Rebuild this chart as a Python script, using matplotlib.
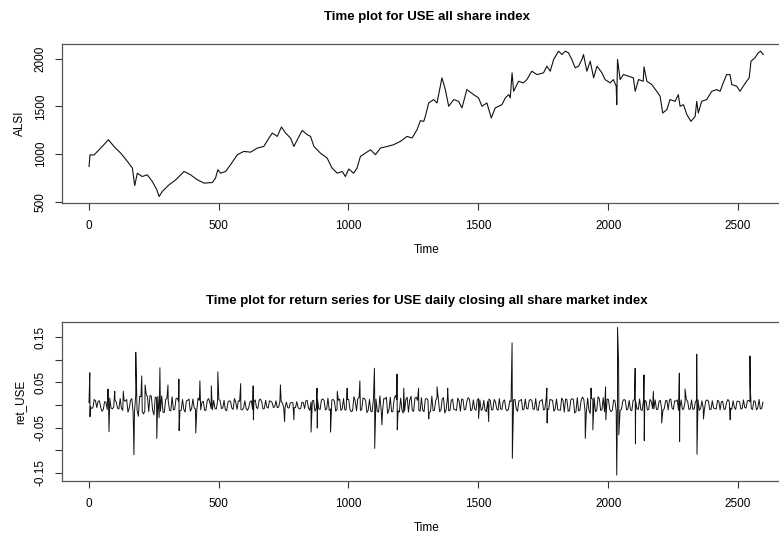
import numpy as np
import matplotlib.pyplot as plt
from matplotlib import font_manager

# --- data ---

# ALSI index level (top panel)
t_alsi = [1, 5, 20, 46, 76, 97, 123, 149, 168, 177, 187, 206, 225, 245, 262, 271, 283,
          309, 335, 354, 367, 392, 418, 444, 476, 488, 497, 508, 527, 546, 572, 597, 623,
          649, 674, 694, 707, 726, 742, 758, 777, 790, 803, 822, 841, 854, 867, 892, 918,
          937, 957, 976, 988, 1001, 1020, 1033, 1046, 1065, 1085, 1104, 1123, 1149, 1174,
          1200, 1226, 1245, 1264, 1277, 1290, 1296, 1309, 1328, 1341, 1360, 1373, 1386,
          1405, 1424, 1437, 1456, 1482, 1501, 1514, 1533, 1550, 1565, 1591, 1604, 1617,
          1623, 1630, 1636, 1655, 1674, 1687, 1706, 1726, 1751, 1764, 1777, 1790, 1809,
          1822, 1835, 1847, 1860, 1873, 1886, 1899, 1905, 1918, 1931, 1944, 1957, 1976,
          1988, 2008, 2020, 2031, 2033, 2036, 2046, 2059, 2078, 2097, 2104, 2117, 2135,
          2138, 2149, 2168, 2187, 2200, 2210, 2226, 2238, 2258, 2270, 2277, 2290, 2303,
          2319, 2335, 2341, 2347, 2360, 2379, 2399, 2418, 2431, 2443, 2456, 2469, 2476,
          2495, 2508, 2520, 2533, 2543, 2550, 2565, 2578, 2587, 2597]
alsi = [870, 993, 990, 1063, 1150, 1080, 1010, 923, 853, 670, 800, 765, 783, 713, 626, 556, 608,
        678, 731, 783, 818, 783, 731, 696, 702, 748, 836, 800, 818, 888, 993, 1028, 1020,
        1063, 1080, 1168, 1220, 1185, 1284, 1220, 1168, 1080, 1150, 1248, 1203, 1185, 1080, 1010, 958,
        853, 800, 818, 765, 843, 800, 853, 975, 1010, 1045, 993, 1063, 1080, 1098,
        1133, 1185, 1168, 1255, 1350, 1342, 1395, 1535, 1570, 1535, 1798, 1675, 1500,
        1570, 1552, 1483, 1675, 1622, 1588, 1500, 1535, 1378, 1483, 1517, 1588, 1622,
        1588, 1850, 1657, 1762, 1745, 1780, 1867, 1832, 1850, 1920, 1867, 1990, 2077,
        2042, 2077, 2060, 1990, 1902, 1920, 1990, 2042, 1867, 1972, 1798, 1920, 1850,
        1780, 1745, 1780, 1710, 1517, 1990, 1780, 1832, 1815, 1798, 1657, 1780, 1762,
        1913, 1762, 1727, 1657, 1605, 1430, 1465, 1570, 1552, 1622, 1500, 1517, 1413,
        1342, 1395, 1552, 1430, 1552, 1570, 1657, 1675, 1657, 1745, 1832, 1832, 1727,
        1710, 1657, 1710, 1762, 1798, 1972, 2007, 2060, 2077, 2042]

# daily returns (bottom panel), in thousandths
# background band, one value every 10 days starting at day 1
ret_band = [
    5, -8, 12, -6, 9, -14, 7, -10, 15, -9,
    11, -7, 14, -12, 8, -16, 10, -18, 22, -25,
    18, -20, 24, -15, 19, -22, 16, -28, 20, -17,
    14, -12, 18, -10, 15, -13, 12, -16, 10, -14,
    13, -9, 15, -11, 8, -12, 14, -8, 10, -9,
    12, -8, 10, -13, 9, -7, 14, -10, 8, -11,
    9, -12, 7, -10, 11, -8, 13, -9, 10, -7,
    8, -6, 9, -5, 7, -8, 6, -7, 5, -6,
    7, -9, 6, -8, 10, -12, 9, -14, 11, -10,
    13, -11, 15, -9, 12, -14, 10, -12, 14, -11,
    12, -15, 18, -13, 16, -11, 14, -17, 12, -15,
    18, -14, 20, -16, 13, -19, 17, -15, 21, -13,
    15, -18, 12, -16, 19, -14, 17, -12, 16, -15,
    14, -17, 19, -12, 16, -15, 13, -18, 15, -12,
    13, -11, 15, -14, 12, -10, 16, -13, 11, -12,
    14, -12, 10, -15, 13, -11, 12, -9, 14, -10,
    11, -13, 9, -10, 12, -14, 10, -11, 13, -9,
    12, -10, 14, -12, 9, -11, 13, -10, 11, -14,
    13, -11, 15, -16, 12, -13, 14, -18, 16, -12,
    17, -14, 15, -19, 13, -15, 18, -12, 16, -14,
    12, -15, 11, -13, 14, -10, 12, -11, 10, -13,
    11, -9, 13, -12, 10, -11, 12, -8, 11, -10,
    10, -12, 9, -11, 13, -10, 8, -12, 11, -9,
    12, -10, 11, -9, 10, -12, 9, -8, 11, -10,
    9, -8, 10, -11, 8, -9, 12, -7, 9, -10,
    8, -9, 11, -7, 10, -8, 9, -11, 12, -8,
]
# in-between band values, every 10 days starting at day 6
ret_band_mid = [
    -4, -6, 9, 8, -5, -10, 6, 9, -7, -5,
    6, -9, -8, 10, 12, -7, 14, -16, -11, 19,
    -15, -13, 18, 21, -12, 17, 19, -14, -16, 12,
    9, -13, -11, 14, 8, -12, -10, 9, 13, -8,
    -7, -11, 10, 6, -12, 9, 6, -11, -8, 7,
    9, -7, -11, 6, 8, -10, 6, 9, -10, -7,
    -8, -6, 9, 7, -6, 10, 7, -8, -5, 9,
    5, -4, -6, 7, 4, -5, -6, 4, 5, -6,
    -6, -8, 5, 9, -7, 6, 10, -8, -9, 11,
    10, -9, -12, 11, 8, -10, 13, -9, -11, 12,
    -11, -13, 9, 14, -12, 15, 10, -12, -14, 11,
    13, -16, -12, 14, 17, -11, -15, 13, 12, -16,
    -12, -14, 17, 11, -13, 15, 10, -14, -12, 13,
    11, -15, -13, 10, 14, -12, 16, -11, -13, 10,
    -10, -12, 9, 13, -11, 8, 12, -10, -9, 11,
    11, -9, -12, 8, 10, -11, 7, -12, -9, 8,
    -9, -10, 7, 11, -9, 8, 12, -9, -8, 10,
    10, -9, -11, 8, 12, -10, -9, 12, 10, -9,
    -11, -12, 10, 13, -14, 11, 12, -15, -13, 10,
    13, -15, -12, 14, 16, -12, 14, -11, -15, 13,
    -10, -12, 9, 11, -12, 8, 10, -9, -11, 10,
    8, -10, -11, 9, 8, -10, 7, -9, -10, 8,
    -9, -8, 10, 11, -7, 9, 11, -8, -10, 7,
    8, -9, -10, 7, 11, -8, -7, 9, 8, -10,
    -7, -9, 8, 7, -10, 6, 8, -10, -6, 8,
    7, -8, -6, 9, 7, -10, 8, -7, -9, 6,
]
# the big spikes
spike_t = [4, 5, 74, 78, 100, 133, 174, 181, 204, 217, 262, 274, 305, 347, 348, 412, 428, 472,
           497, 585, 633, 634, 738, 754, 790, 856, 879, 880, 931, 957, 995, 1044, 1100, 1101,
           1129, 1187, 1188, 1213, 1270, 1309, 1341, 1382, 1501, 1540, 1630, 1631, 1764, 1765,
           1912, 1934, 1941, 1990, 1991, 2033, 2036, 2040, 2041, 2104, 2105, 2138, 2139, 2174,
           2206, 2274, 2275, 2296, 2341, 2342, 2367, 2470, 2546, 2547]
spike_v = [71, -26, 35, -59, 30, 30, -110, 116, 64, 44, -74, 82, 44, 57, -57, -62, 53, 42,
           73, 47, 42, -33, 44, -37, -33, -60, 37, -51, -60, 30, 37, 53, 81, -96,
           -44, 68, -55, 37, 37, -31, 40, 37, -30, -37, 137, -118, 37, -40,
           -74, 37, -55, 40, -33, -155, 171, 98, -66, 81, -86, 66, -79, 30,
           -40, 70, -81, 35, 112, -109, -31, -33, 108, 40]

x_ticks = [0, 500, 1000, 1500, 2000, 2500]

# --- assemble return series ---
band_t = np.arange(1, 10 * len(ret_band), 10)
mid_t = np.arange(6, 10 * len(ret_band_mid) + 5, 10)
rt = np.concatenate([band_t, mid_t, spike_t])
rv = np.concatenate([ret_band, ret_band_mid, spike_v]) / 1000.0
order = np.argsort(rt, kind="stable")
rt, rv = rt[order], rv[order]

# --- fonts ---
names = {f.name for f in font_manager.fontManager.ttflist}
fam = ["Liberation Sans Narrow"] if "Liberation Sans Narrow" in names else ["Liberation Sans"]
plt.rcParams["font.family"] = fam + ["DejaVu Sans"]

# --- plotting ---
fig = plt.figure(figsize=(7.79, 5.33), dpi=100)
W, H = 779, 533
def px_axes(l, t, r, b):
    return fig.add_axes([l / W, 1 - b / H, (r - l) / W, (b - t) / H])

ax1 = px_axes(62, 44, 791, 203)
ax2 = px_axes(62, 322, 791, 481)

ax1.plot(t_alsi, alsi, color="#111111", lw=0.8)
ax1.set_xlim(-103, 2704)
ax1.set_ylim(488, 2152)
ax1.set_yticks([500, 1000, 1500, 2000])
ax1.set_ylabel("ALSI", fontsize=8.5, labelpad=6)
ax1.set_title("Time plot for USE all share index", fontsize=9.5, fontweight="bold", pad=17)

ax2.plot(rt, rv, color="#111111", lw=0.7)
ax2.set_xlim(-103, 2704)
ax2.set_ylim(-0.168, 0.183)
yt = [-0.15, -0.10, -0.05, 0.0, 0.05, 0.10, 0.15]
ax2.set_yticks(yt)
ax2.set_yticklabels(["-0.15", "", "-0.05", "", "0.05", "", "0.15"])
ax2.set_ylabel("ret_USE", fontsize=8.5, labelpad=6)
ax2.set_title("Time plot for return series for USE daily closing all share market index",
              fontsize=9.5, fontweight="bold", pad=13)

for ax in (ax1, ax2):
    ax.set_xticks(x_ticks)
    ax.set_xlabel("Time", fontsize=8.5, labelpad=9)
    ax.tick_params(axis="both", labelsize=8.5, length=5, width=0.8, color="#333333")
    ax.tick_params(axis="x", pad=7)
    ax.tick_params(axis="y", pad=6)
    for lab in ax.get_yticklabels():
        lab.set_rotation(90)
        lab.set_va("center")
    for s in ax.spines.values():
        s.set_color("#555555")
        s.set_linewidth(0.9)

fig.savefig("out.png", dpi=100)
